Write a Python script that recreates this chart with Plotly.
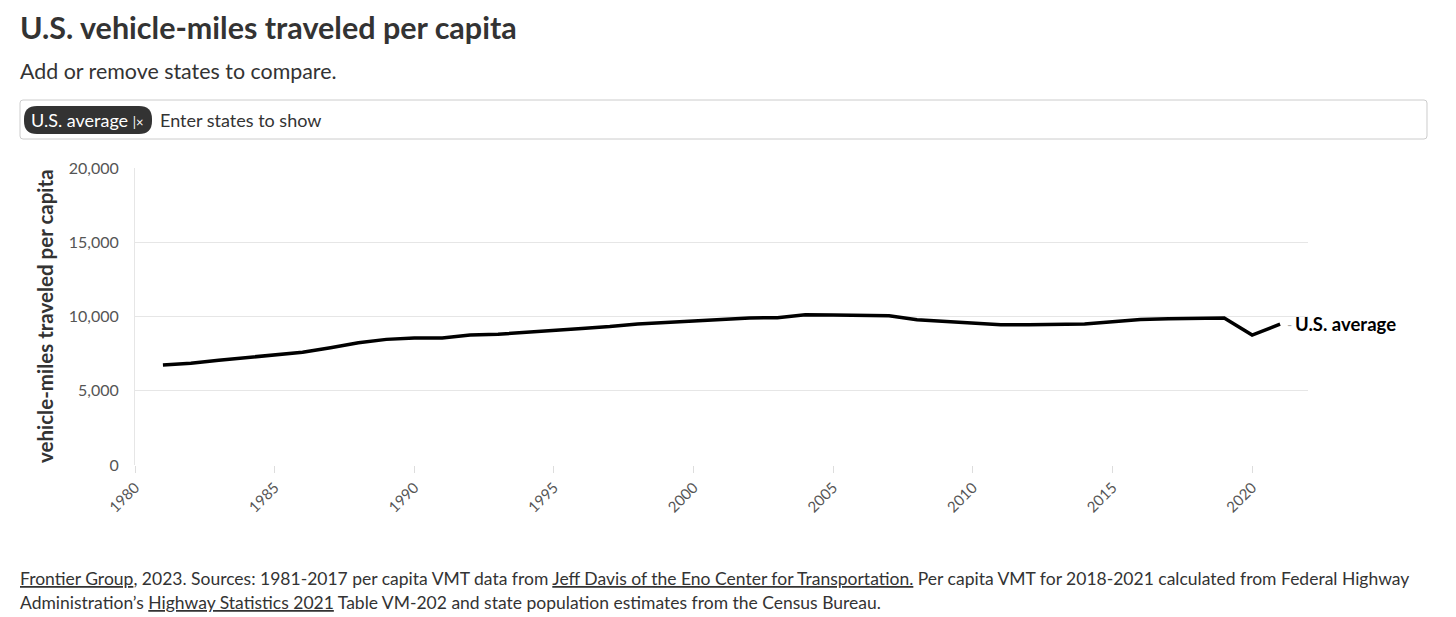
import plotly.graph_objects as go

years = list(range(1981, 2022))
vmt = [6730, 6850, 7050, 7250, 7420, 7600, 7900, 8230, 8460, 8550,
       8550, 8750, 8800, 8950, 9050, 9200, 9320, 9500, 9600, 9700,
       9780, 9900, 9920, 10120, 10100, 10080, 10050, 9780, 9680, 9560,
       9450, 9450, 9450, 9500, 9650, 9800, 9850, 9900, 9900, 8750, 9480]
series_name = "U.S. average"
y_ticks = [0, 5000, 10000, 15000, 20000]
x_ticks = [1980, 1985, 1990, 1995, 2000, 2005, 2010, 2015, 2020]

OFF = 8  # page body margin
W, H = 1456 - OFF, 617 - OFF
L, R, T, B = 135 - OFF, 148, 168 - OFF, 152
PW, PH = W - L - R, H - T - B
FONT = "Lato, 'Source Sans Pro', 'Noto Sans', sans-serif"


def px(x, y):
    x -= OFF
    y -= OFF
    return (x - L) / PW, (H - B - y) / PH


fig = go.Figure()
fig.add_trace(go.Scatter(x=years, y=vmt, mode="lines", name=series_name,
                         line=dict(color="#000000", width=3.5),
                         hoverinfo="x+y"))

annotations = []


def text(xp, yp, s, size, color="#333", bold=False, xanchor="left", yanchor="middle", angle=0):
    x, y = px(xp, yp)
    annotations.append(dict(xref="paper", yref="paper", x=x, y=y, text=("<b>%s</b>" % s) if bold else s,
                            showarrow=False, xanchor=xanchor, yanchor=yanchor, textangle=angle,
                            font=dict(family=FONT, size=size, color=color)))


text(18, 27, "U.S. vehicle-miles traveled per capita", 30.5, "#333", bold=True)
text(18, 71, "Add or remove states to compare.", 21.4, "#333")
text(29, 120, "U.S. average <span style='font-size:13px'>|×</span>", 18, "#ffffff")
text(158, 120, "Enter states to show", 18, "#333")
text(45, 316, "vehicle-miles traveled per capita", 20.5, "#333", bold=True, xanchor="center", angle=-90)
text(18, 578, "<u>Frontier Group</u>, 2023. Sources: 1981-2017 per capita VMT data from "
     "<u>Jeff Davis of the Eno Center for Transportation.</u> Per capita VMT for 2018-2021 "
     "calculated from Federal Highway", 17.5, "#333")
text(18, 602, "Administration’s <u>Highway Statistics 2021</u> Table VM-202 and state population "
     "estimates from the Census Bureau.", 17.5, "#333")

# series end label
annotations.append(dict(x=years[-1], y=vmt[-1], xref="x", yref="y", text="-", showarrow=False,
                        xanchor="left", yanchor="middle", xshift=5,
                        font=dict(family=FONT, size=14, color="#aaa")))
annotations.append(dict(x=years[-1], y=vmt[-1], xref="x", yref="y", text="<b>%s</b>" % series_name,
                        showarrow=False, xanchor="left", yanchor="middle", xshift=13,
                        font=dict(family=FONT, size=18.5, color="#000")))


def rrect(x0, y0, x1, y1, r):
    pts = []
    a = px(x0 + r, y0); pts.append("M%f,%f" % a)
    b = px(x1 - r, y0); pts.append("L%f,%f" % b)
    c = px(x1, y0); d = px(x1, y0 + r); pts.append("Q%f,%f %f,%f" % (c + d))
    e = px(x1, y1 - r); pts.append("L%f,%f" % e)
    f = px(x1, y1); g = px(x1 - r, y1); pts.append("Q%f,%f %f,%f" % (f + g))
    h = px(x0 + r, y1); pts.append("L%f,%f" % h)
    i = px(x0, y1); j = px(x0, y1 - r); pts.append("Q%f,%f %f,%f" % (i + j))
    k = px(x0, y0 + r); pts.append("L%f,%f" % k)
    m = px(x0, y0); n = px(x0 + r, y0); pts.append("Q%f,%f %f,%f" % (m + n))
    return " ".join(pts) + " Z"


shapes = [
    dict(type="path", xref="paper", yref="paper", path=rrect(20, 100, 1427, 139, 3),
         line=dict(color="#cccccc", width=1), fillcolor="rgba(0,0,0,0)", layer="below"),
    dict(type="path", xref="paper", yref="paper", path=rrect(24, 106, 152, 134, 13),
         line=dict(color="#333333", width=0), fillcolor="#333333", layer="below"),
]

fig.update_layout(
    width=W, height=H,
    margin=dict(l=L, r=R, t=T, b=B),
    paper_bgcolor="#ffffff", plot_bgcolor="#ffffff",
    showlegend=False,
    font=dict(family=FONT, color="#555"),
    annotations=annotations,
    shapes=shapes,
    xaxis=dict(range=[1980, 2022], tickvals=x_ticks, ticktext=[str(v) for v in x_ticks],
               tickangle=-45, ticks="outside", ticklen=7, tickcolor="#dddddd", tickwidth=1,
               showgrid=False, zeroline=False, showline=False,
               tickfont=dict(family=FONT, size=15, color="#555")),
    yaxis=dict(range=[0, 20000], tickvals=y_ticks, tickformat=",", showgrid=True,
               gridcolor="#e6e6e6", gridwidth=1, zeroline=False, showline=True,
               linecolor="#e6e6e6", linewidth=1, ticks="", ticklabelstandoff=12,
               tickfont=dict(family=FONT, size=16, color="#555")),
)

fig.write_html("out.html")
